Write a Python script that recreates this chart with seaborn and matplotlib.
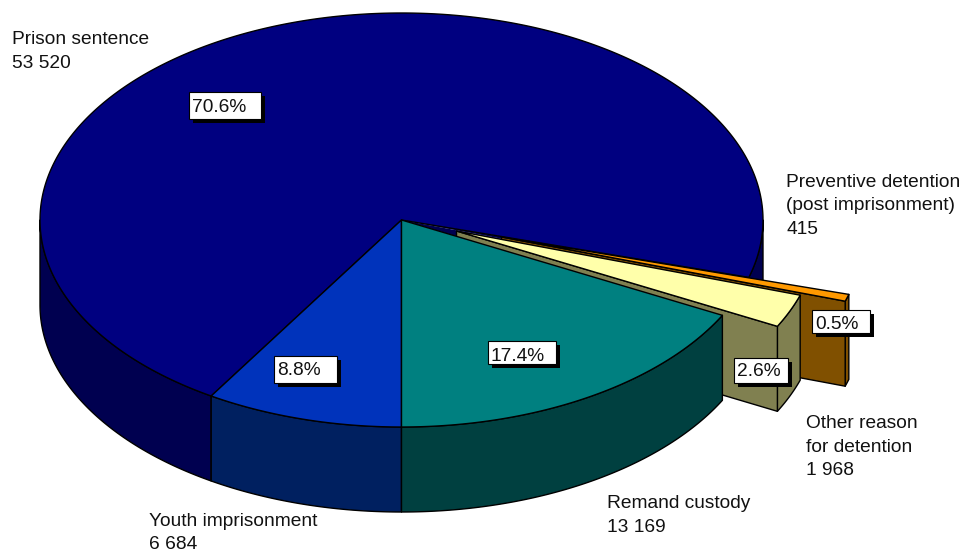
import numpy as np
import matplotlib
matplotlib.use("Agg")
import matplotlib.pyplot as plt
from matplotlib.patches import Rectangle
import seaborn as sns

# --- data, clockwise from six o'clock
categories = ["Youth imprisonment", "Prison sentence",
              "Preventive detention\n(post imprisonment)",
              "Other reason\nfor detention", "Remand custody"]
values = [6684, 53520, 415, 1968, 13169]
value_labels = ["6 684", "53 520", "415", "1 968", "13 169"]

# --- style
top_colors = sns.color_palette(["#0033BB", "#000080", "#FF9900", "#FFFFAA", "#008080"])
side_colors = sns.color_palette(["#002060", "#000050", "#805000", "#808050", "#004040"])
explode = [(0, 0), (0, 0), (100, 17), (55, 11), (0, 0)]
label_pos = [(149, 525.5), (12, 44), (786.5, 187), (806, 428), (607, 508)]
box_pos = [(274, 356, 63, 27), (189, 92, 72, 27), (812, 310, 58, 23),
           (734, 358, 54, 25), (488, 341, 68, 23)]
box_base = [375, 112, 329, 376, 361]
CX, CY, RX, RY, DEPTH = 401.5, 220, 361.5, 207, 85
FS = 13.8

sns.set_style("white")
plt.rcParams["font.family"] = ["Liberation Sans", "DejaVu Sans"]

fig = plt.figure(figsize=(9.61, 5.53), dpi=100)
ax = fig.add_axes([0, 0, 1, 1])
ax.set_xlim(0, 961)
ax.set_ylim(553, 0)
ax.axis("off")

total = sum(values)
edges = np.concatenate([[0], np.cumsum(values)]) / total * 2 * np.pi


def rim(a0, a1, dx, dy):
    t = np.linspace(a0, a1, max(3, int(abs(a1 - a0) * 120)))
    # angle runs clockwise on screen, from six o'clock
    return CX + dx - RX * np.sin(t), CY + dy + RY * np.cos(t)


def poly(x, y, color, z):
    ax.fill(x, y, facecolor=color, edgecolor="black", lw=1.0,
            joinstyle="round", zorder=z)


def wedge(i, z):
    a0, a1 = edges[i], edges[i + 1]
    dx, dy = explode[i]
    x, y = rim(a0, a1, dx, dy)
    ax0, ay0 = CX + dx, CY + dy
    # hollow left behind by an exploded slice
    if dx:
        hx, hy = rim(a0, a1, 0, 0)
        ax.fill(np.r_[CX, hx], np.r_[CY, hy], facecolor=side_colors[1],
                edgecolor="none", zorder=0.9)
    # outer wall, only the part turned to the viewer
    vis_ranges = []
    if a0 < np.pi / 2:
        vis_ranges.append((a0, min(a1, np.pi / 2)))
    if a1 > 3 * np.pi / 2:
        vis_ranges.append((max(a0, 3 * np.pi / 2), a1))
    for r0, r1 in vis_ranges:
        xs, ys = rim(r0, r1, dx, dy)
        poly(np.r_[xs, xs[::-1]], np.r_[ys, ys[::-1] + DEPTH], side_colors[i], z)
    # radial wall on the lower, viewer-facing edge of an exploded slice
    if dx:
        xe, ye = rim(a1, a1, dx, dy)
        poly([ax0, xe[0], xe[0], ax0], [ay0, ye[0], ye[0] + DEPTH, ay0 + DEPTH],
             side_colors[i], z)
    poly(np.r_[ax0, x], np.r_[ay0, y], top_colors[i], z + 0.5)


for z, i in enumerate([1, 2, 3, 0, 4]):
    wedge(i, z + 1)

for i, (name, val) in enumerate(zip(categories, value_labels)):
    x, y = label_pos[i]
    for k, line in enumerate(name.split("\n") + [val]):
        ax.text(x, y + k * 23.5, line, fontsize=FS, color="#111111",
                ha="left", va="baseline", zorder=10)

for i, v in enumerate(values):
    x, y, w, h = box_pos[i]
    ax.add_patch(Rectangle((x + 3.5, y + 3.5), w, h, fc="black", ec="none", zorder=11))
    ax.add_patch(Rectangle((x, y), w, h, fc="white", ec="black", lw=0.8, zorder=12))
    ax.text(x + 3, box_base[i], f"{v / total * 100:.1f}%", fontsize=FS,
            color="#111111", ha="left", va="baseline", zorder=13)

fig.savefig("out.png", dpi=100)
